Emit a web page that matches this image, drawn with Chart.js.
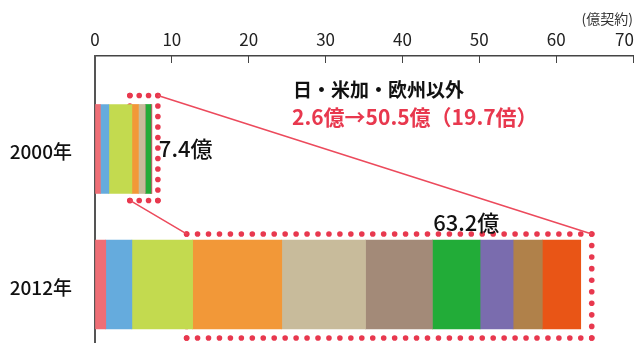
<!DOCTYPE html>
<html lang="ja">
<head>
<meta charset="utf-8">
<script src="https://cdn.jsdelivr.net/npm/chart.js@4.4.1/dist/chart.umd.min.js"></script>
<style>
  html, body { margin: 0; padding: 0; background: #fff; }
  #wrap { width: 635px; height: 343px; }
</style>
</head>
<body>
<div id="wrap"><canvas id="chart" width="635" height="343"></canvas></div>
<script>
// categories and values (億契約)
const years = ["2000年", "2012年"]
const xTickValues = [0, 10, 20, 30, 40, 50, 60, 70]
const segmentNames = ["日本", "米加", "欧州", "地域4", "地域5", "地域6", "地域7", "地域8", "地域9", "地域10"]
const values2000 = [0.7, 1.1, 3.0, 0.85, 0.85, 0.05, 0.7, 0.05, 0.03, 0.07]
const values2012 = [1.4, 3.4, 7.9, 11.6, 10.9, 8.7, 6.2, 4.3, 3.8, 5.0]
const totalLabels = ["7.4億", "63.2億"]
const headline = "日・米加・欧州以外"
const highlight = "2.6億→50.5億（19.7倍）"
const unitLabel = "(億契約)"

const segmentColors = [
  "#EE6E76", "#65ABDD", "#C3DA4F", "#F29838", "#C8BB9B",
  "#A38A78", "#22AC38", "#7A6CAE", "#B0814A", "#E95516"
]

const FONT = "'Noto Sans CJK JP', 'Noto Sans', sans-serif"
const RED = "#E8384E"

// number of segments belonging to Japan / US+Canada / Europe
const baseCount = 3

const datasets = segmentNames.map((name, i) => ({
  label: name,
  data: [
    { x: values2000[i], y: 0 },
    { x: values2012[i], y: 1 }
  ],
  backgroundColor: segmentColors[i],
  borderWidth: 0,
  barThickness: 89
}))

function sum(arr, n) {
  return arr.slice(0, n).reduce((a, b) => a + b, 0)
}

function dotted(ctx, x0, y0, x1, y1, gap) {
  const len = Math.hypot(x1 - x0, y1 - y0)
  const n = Math.max(1, Math.round(len / gap))
  for (let k = 0; k <= n; k++) {
    const t = k / n
    ctx.beginPath()
    ctx.arc(x0 + (x1 - x0) * t, y0 + (y1 - y0) * t, 2.8, 0, Math.PI * 2)
    ctx.fill()
  }
}

function dottedBox(ctx, b) {
  dotted(ctx, b.left, b.top, b.right, b.top, 11)
  dotted(ctx, b.right, b.top, b.right, b.bottom, 11)
  dotted(ctx, b.right, b.bottom, b.left, b.bottom, 11)
  dotted(ctx, b.left, b.bottom, b.left, b.top, 11)
}

function boxes(chart) {
  const xs = chart.scales.x
  const ys = chart.scales.y
  const half = 89 / 2
  const c0 = ys.getPixelForValue(0)
  const c1 = ys.getPixelForValue(1)
  const small = {
    left: xs.getPixelForValue(sum(values2000, baseCount)) - 2,
    right: xs.getPixelForValue(sum(values2000, values2000.length)) + 6,
    top: c0 - half - 9,
    bottom: c0 + half + 7
  }
  const large = {
    left: xs.getPixelForValue(sum(values2012, baseCount)) - 6,
    right: xs.getPixelForValue(sum(values2012, values2012.length)) + 11,
    top: c1 - half - 6,
    bottom: c1 + half + 9
  }
  return { small, large, c0, c1 }
}

const annotations = {
  id: "annotations",
  beforeDatasetsDraw(chart) {
    const ctx = chart.ctx
    const { small, large } = boxes(chart)
    ctx.save()
    ctx.fillStyle = RED
    dottedBox(ctx, small)
    dottedBox(ctx, large)
    ctx.strokeStyle = "#EC4A5C"
    ctx.lineWidth = 1.5
    ctx.beginPath()
    ctx.moveTo(small.right, small.top)
    ctx.lineTo(large.right, large.top)
    ctx.moveTo(small.left, small.bottom)
    ctx.lineTo(large.left, large.top)
    ctx.stroke()
    ctx.restore()
  },
  afterDatasetsDraw(chart) {
    const ctx = chart.ctx
    const { small, large, c0 } = boxes(chart)
    const xs = chart.scales.x
    ctx.save()
    ctx.fillStyle = "#111"
    ctx.font = "500 22px " + FONT
    ctx.textAlign = "left"
    ctx.textBaseline = "middle"
    ctx.fillText(totalLabels[0], small.right + 1, c0)
    ctx.textAlign = "center"
    ctx.textBaseline = "alphabetic"
    ctx.fillText(totalLabels[1], xs.getPixelForValue(48.3), large.top - 3)

    ctx.textAlign = "left"
    ctx.textBaseline = "middle"
    ctx.font = "bold 19px " + FONT
    ctx.fillText(headline, 293, 90)
    ctx.fillStyle = RED
    ctx.font = "bold 21px " + FONT
    ctx.fillText(highlight, 292, 117)

    ctx.fillStyle = "#333"
    ctx.font = "14px " + FONT
    ctx.textAlign = "right"
    ctx.fillText(unitLabel, 633, 19)
    ctx.restore()
  }
}

new Chart(document.getElementById("chart"), {
  type: "bar",
  data: { datasets: datasets },
  plugins: [annotations],
  options: {
    indexAxis: "y",
    responsive: false,
    animation: false,
    layout: { padding: 0 },
    plugins: {
      legend: { display: false },
      tooltip: { enabled: false }
    },
    scales: {
      x: {
        type: "linear",
        position: "top",
        stacked: true,
        min: 0,
        max: 70,
        afterBuildTicks: scale => {
          scale.ticks = xTickValues.map(v => ({ value: v }))
        },
        afterFit: scale => {
          scale.height = 56
          scale.paddingLeft = 0
          scale.paddingRight = 2
        },
        ticks: {
          color: "#222",
          padding: 13,
          font: { size: 17, family: FONT },
          callback: v => v === 70 ? v + "\u2003" : String(v)
        },
        grid: {
          drawOnChartArea: false,
          drawTicks: true,
          tickLength: -7,
          color: "#444",
          lineWidth: 1
        },
        border: { display: true, color: "#444", width: 1.5 }
      },
      y: {
        type: "linear",
        stacked: true,
        reverse: true,
        offset: false,
        min: -0.686,
        max: 1.432,
        afterBuildTicks: scale => {
          scale.ticks = years.map((_, i) => ({ value: i }))
        },
        afterFit: scale => {
          scale.width = 95
          scale.paddingTop = 0
          scale.paddingBottom = 0
        },
        ticks: {
          color: "#111",
          padding: 15,
          labelOffset: 3,
          font: { size: 19, weight: 500, family: FONT },
          callback: v => years[v]
        },
        grid: { display: false },
        border: { display: true, color: "#555", width: 2 }
      }
    }
  }
})
</script>
</body>
</html>
